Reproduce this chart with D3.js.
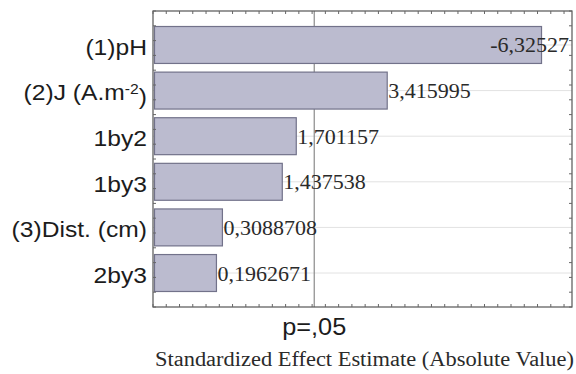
<!DOCTYPE html>
<html>
<head>
<meta charset="utf-8">
<script src="https://cdn.jsdelivr.net/npm/d3@7"></script>
<style>
  body { margin: 0; background: #fff; }
</style>
</head>
<body>
<script>
// pareto chart of standardized effects
var factors = ["(1)pH", "(2)J (A.m-2)", "1by2", "1by3", "(3)Dist. (cm)", "2by3"];
var effects = [6.32527, 3.415995, 1.701157, 1.437538, 0.3088708, 0.1962671];
var effectLabels = ["-6,32527", "3,415995", "1,701157", "1,437538", "0,3088708", "0,1962671"];
var pLimit = 2.04;
var pLabel = "p=,05";
var xTitle = "Standardized Effect Estimate (Absolute Value)";

var W = 576, H = 374;
var plotL = 153, plotR = 572, plotT = 11, plotB = 307;

var svg = d3.select("body").append("svg")
    .attr("width", W)
    .attr("height", H);

var x = d3.scaleLinear().domain([-1, 6.9]).range([plotL, plotR]);
var y = d3.scaleBand().domain(factors).range([plotT, plotB])
    .paddingInner(0.19).paddingOuter(0.34);
var yTick = d3.scaleLinear().domain([0, 1]).range([plotT, plotB]);

// grid lines at category centres
svg.append("g").selectAll("line")
    .data(factors)
    .enter().append("line")
    .attr("x1", plotL).attr("x2", plotR)
    .attr("y1", function(d) { return y(d) + y.bandwidth() / 2; })
    .attr("y2", function(d) { return y(d) + y.bandwidth() / 2; })
    .style("stroke", "#e2e2e2")
    .style("stroke-width", 1);

// p=.05 line
svg.append("line")
    .attr("x1", x(pLimit)).attr("x2", x(pLimit))
    .attr("y1", plotT).attr("y2", plotB)
    .style("stroke", "#8a8a8a")
    .style("stroke-width", 1.2);

// bars
svg.append("g").selectAll("rect")
    .data(factors)
    .enter().append("rect")
    .attr("x", x(-1) + 1.5)
    .attr("y", function(d) { return y(d); })
    .attr("width", function(d, i) { return x(effects[i]) - x(-1) - 1.5; })
    .attr("height", y.bandwidth())
    .style("fill", "#bbbbcf")
    .style("stroke", "#72728a")
    .style("stroke-width", 1.2);

// value labels (the long one is pulled back inside the frame)
function overflows(i) { return x(effects[i]) + effectLabels[i].length * 10.5 > plotR; }
svg.append("g").selectAll("text")
    .data(factors)
    .enter().append("text")
    .attr("x", function(d, i) { return overflows(i) ? plotR - 3 : x(effects[i]) + 1; })
    .attr("y", function(d) { return y(d) + y.bandwidth() / 2; })
    .attr("dy", "0.34em")
    .attr("text-anchor", function(d, i) { return overflows(i) ? "end" : "start"; })
    .style("font-family", "'Liberation Serif', 'Times New Roman', serif")
    .style("font-size", "22px")
    .style("fill", "#2a2a2a")
    .text(function(d, i) { return effectLabels[i]; });

// frame
svg.append("rect")
    .attr("x", plotL).attr("y", plotT)
    .attr("width", plotR - plotL).attr("height", plotB - plotT)
    .style("fill", "none")
    .style("stroke", "#555")
    .style("stroke-width", 1.2);

// small inward ticks on the frame
var xt = d3.range(-1, 6.9, 0.25);
var frameTicks = svg.append("g").style("stroke", "#666").style("stroke-width", 1);
frameTicks.selectAll(".tt").data(xt).enter().append("line")
    .attr("x1", function(d) { return x(d); }).attr("x2", function(d) { return x(d); })
    .attr("y1", plotT).attr("y2", plotT + 3);
frameTicks.selectAll(".bt").data(xt).enter().append("line")
    .attr("x1", function(d) { return x(d); }).attr("x2", function(d) { return x(d); })
    .attr("y1", plotB).attr("y2", plotB - 3);
var yt = yTick.ticks(24);
frameTicks.selectAll(".lt").data(yt).enter().append("line")
    .attr("x1", plotL).attr("x2", plotL + 3)
    .attr("y1", function(d) { return yTick(d); }).attr("y2", function(d) { return yTick(d); });
frameTicks.selectAll(".rt").data(yt).enter().append("line")
    .attr("x1", plotR).attr("x2", plotR - 3)
    .attr("y1", function(d) { return yTick(d); }).attr("y2", function(d) { return yTick(d); });

// category labels
var cat = svg.append("g").selectAll("text")
    .data(factors)
    .enter().append("text")
    .attr("transform", function(d) {
        return "translate(147," + (y(d) + y.bandwidth() / 2) + ") scale(1.12,1)";
    })
    .attr("dy", "0.45em")
    .attr("text-anchor", "end")
    .style("font-family", "'Liberation Sans', Arial, sans-serif")
    .style("font-size", "22px")
    .style("fill", "#1c1c1c");
cat.each(function(d) {
    var t = d3.select(this);
    if (d.indexOf("m-2") >= 0) {
        t.append("tspan").text("(2)J (A.m");
        t.append("tspan").attr("dy", "-0.45em").style("font-size", "14px").text("-2");
        t.append("tspan").attr("dy", "0.45em").text(")");
    } else {
        t.text(d);
    }
});

// p label
svg.append("text")
    .attr("transform", "translate(" + x(pLimit) + ",335) scale(1.1,1)")
    .attr("text-anchor", "middle")
    .style("font-family", "'Liberation Sans', Arial, sans-serif")
    .style("font-size", "23px")
    .style("fill", "#1c1c1c")
    .text(pLabel);

// axis title
svg.append("text")
    .attr("x", (plotL + plotR) / 2 + 2)
    .attr("y", 366)
    .attr("text-anchor", "middle")
    .attr("textLength", 419)
    .attr("lengthAdjust", "spacingAndGlyphs")
    .style("font-family", "'Liberation Serif', 'Times New Roman', serif")
    .style("font-size", "20px")
    .style("fill", "#2a2a2a")
    .text(xTitle);
</script>
</body>
</html>
